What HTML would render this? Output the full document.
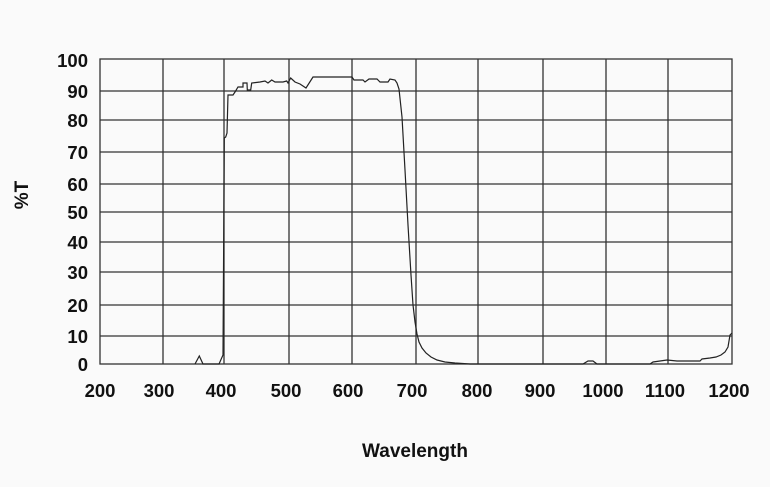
<!DOCTYPE html>
<html><head><style>
body{margin:0;background:#fafafa;}
svg{display:block;font-family:"Liberation Sans",sans-serif;font-weight:bold;}
</style></head><body>
<svg width="770" height="487" viewBox="0 0 770 487">
<rect width="770" height="487" fill="#fafafa"/>
<g stroke="#333" stroke-width="1.3" fill="none">
<rect x="100" y="59" width="632" height="305"/>
<path d="M163 59V364M224 59V364M289 59V364M352 59V364M416 59V364M478 59V364M543 59V364M606 59V364M668 59V364"/>
<path d="M100 91H732M100 120H732M100 152H732M100 184H732M100 212H732M100 242H732M100 272H732M100 305H732M100 336H732"/>
</g>
<polyline fill="none" stroke="#222" stroke-width="1.2" points="195,364 199.3,356 203,364 219,364 223,355 224.3,138 225.7,137 227,133 228,95 233,95 235,92 238,87 243,87 243,83 247,83 247.3,90 250.7,90 251.7,83 260,82 265,81 268,83 271.7,80 275,82 283,82 286.7,81 288,83 290.7,78 295,82 300,84 306,88 313,77 352,77 354,80 363,80 365,82 369,79 377,79 380,82 388,82 390,79 395,80 397,83 399,89 402,117 405,170 408,225 411,275 413,305 415,322 417,334 419,342 422,348 426,353 431,357 437,360 445,362 455,363 470,364 583,364 588,361 593,361 597,364 650,364 653,362 667,360 677,361 700,361 702,359 710,358 716,357 721,355 725,352 728,347 730,335 732,333"/>
<g font-size="18.5" text-anchor="end" fill="#111">
<text x="88" y="67">100</text><text x="88" y="98">90</text><text x="88" y="127">80</text><text x="88" y="159">70</text><text x="88" y="191">60</text><text x="88" y="219">50</text><text x="88" y="249">40</text><text x="88" y="279">30</text><text x="88" y="312">20</text><text x="88" y="343">10</text><text x="88" y="371">0</text>
</g>
<g font-size="18.5" text-anchor="middle" fill="#111">
<text x="100" y="397">200</text><text x="159" y="397">300</text><text x="221" y="397">400</text><text x="286" y="397">500</text><text x="348" y="397">600</text><text x="412" y="397">700</text><text x="477" y="397">800</text><text x="540" y="397">900</text><text x="603" y="397">1000</text><text x="665" y="397">1100</text><text x="729" y="397">1200</text>
</g>
<text x="415" y="457" font-size="19" text-anchor="middle" fill="#111">Wavelength</text>
<text transform="translate(28,195) rotate(-90)" font-size="19" text-anchor="middle" fill="#111">%T</text>
</svg>
</body></html>
